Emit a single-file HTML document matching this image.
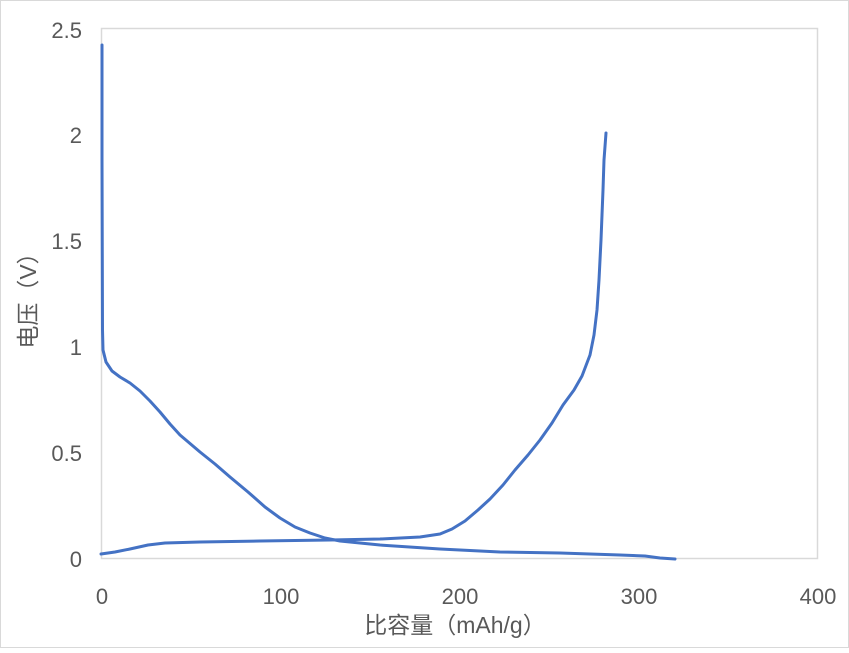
<!DOCTYPE html>
<html><head><meta charset="utf-8"><style>
body{margin:0;background:#fff}
svg text{font-family:"Liberation Sans","Noto Sans CJK SC",sans-serif;fill:#595959}
</style></head><body>
<svg width="849" height="648" viewBox="0 0 849 648" xmlns="http://www.w3.org/2000/svg">
<rect x="0.5" y="0.5" width="848" height="647" fill="#fff" stroke="#d9d9d9"/>
<rect x="101.5" y="28.5" width="716" height="530" fill="none" stroke="#d9d9d9" stroke-width="1.5"/>
<g font-size="22" text-anchor="end">
<text x="82" y="567">0</text>
<text x="82" y="461">0.5</text>
<text x="82" y="355">1</text>
<text x="82" y="249">1.5</text>
<text x="82" y="143">2</text>
<text x="82" y="38">2.5</text>
</g>
<g font-size="22" text-anchor="middle">
<text x="102" y="604">0</text>
<text x="281" y="604">100</text>
<text x="460" y="604">200</text>
<text x="639" y="604">300</text>
<text x="818" y="604">400</text>
</g>
<text x="455" y="633" font-size="23" text-anchor="middle">比容量（mAh/g）</text>
<text transform="translate(36,295) rotate(-90)" font-size="23" text-anchor="middle">电压（V）</text>
<g fill="none" stroke="#4472c4" stroke-width="3" stroke-linejoin="round" stroke-linecap="round">
<path d="M102,45 L102,160 L102.5,330 L103,350 L106,362 L112,371 L120,377 L130,383 L140,391 L150,401 L160,412 L170,424 L180,435 L200,452 L215,464 L230,477 L248,492 L265,507 L280,518 L295,527 L310,533 L325,538 L340,541 L380,545 L440,549 L500,552 L560,553 L620,555 L645,556 L660,558 L675,559"/>
<path d="M101,554 L115,552 L130,549 L148,545 L165,543 L200,542 L260,541 L330,540 L380,539 L420,537 L440,534 L452,529 L465,521 L478,510 L490,499 L503,485 L515,470 L528,455 L540,440 L552,423 L563,405 L574,390 L582,376 L590,355 L594,335 L597,310 L599,280 L601,240 L603,190 L604,160 L606,133"/>
</g>
</svg>
</body></html>
